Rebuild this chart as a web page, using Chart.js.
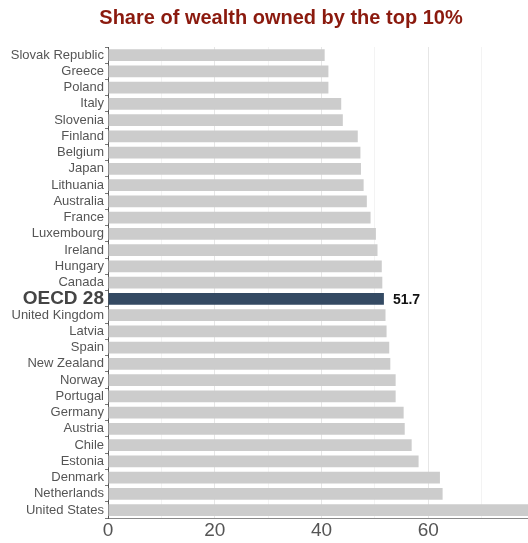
<!DOCTYPE html>
<html>
<head>
  <title>Share of wealth owned by the top 10%</title>
  <style>
    body {
      margin: 0;
      padding: 0;
      background-color: #ffffff;
    }

    .chart-box {
      width: 528px;
      height: 543px;
    }
  </style>
  <script src="https://cdn.jsdelivr.net/npm/chart.js"></script>
</head>
<body>
<div class="chart-box">
  <canvas id="wealthChart"></canvas>
</div>

<script>
  // Countries, lowest share first
  const countries = [
    'Slovak Republic', 'Greece', 'Poland', 'Italy', 'Slovenia', 'Finland', 'Belgium',
    'Japan', 'Lithuania', 'Australia', 'France', 'Luxembourg', 'Ireland', 'Hungary',
    'Canada', 'OECD 28', 'United Kingdom', 'Latvia', 'Spain', 'New Zealand', 'Norway',
    'Portugal', 'Germany', 'Austria', 'Chile', 'Estonia', 'Denmark', 'Netherlands',
    'United States'
  ];

  // Share of wealth held by the top 10% (%)
  const shares = [
    40.6, 41.3, 41.3, 43.7, 44.0, 46.8, 47.3,
    47.4, 47.9, 48.5, 49.2, 50.2, 50.5, 51.3,
    51.4, 51.7, 52.0, 52.2, 52.7, 52.9, 53.9,
    53.9, 55.4, 55.6, 56.9, 58.2, 62.2, 62.7,
    79.5
  ];

  const highlight = 'OECD 28';
  const xTicksShown = [0, 20, 40, 60];

  const highlightIndex = countries.indexOf(highlight);
  const barColors = countries.map(c => c === highlight ? '#344a63' : '#cccccc');

  // Title and the value label next to the OECD bar
  const extraText = {
    id: 'extraText',
    afterDatasetsDraw(chart) {
      const ctx = chart.ctx;
      const bar = chart.getDatasetMeta(0).data[highlightIndex];
      ctx.save();
      ctx.fillStyle = '#111111';
      ctx.font = 'bold 14px "Liberation Sans", Arial, sans-serif';
      ctx.textAlign = 'left';
      ctx.textBaseline = 'middle';
      ctx.fillText(shares[highlightIndex].toFixed(1), bar.x + 9, bar.y + 1);
      ctx.restore();
    },
    afterDraw(chart) {
      const ctx = chart.ctx;
      ctx.save();
      ctx.fillStyle = '#8b1a0e';
      ctx.font = 'bold 20px "Liberation Sans", Arial, sans-serif';
      ctx.textAlign = 'center';
      ctx.textBaseline = 'middle';
      ctx.fillText('Share of wealth owned by the top 10%', 281, 18);
      ctx.restore();
    }
  };

  new Chart(document.getElementById('wealthChart'), {
    type: 'bar',
    data: {
      labels: countries,
      datasets: [{
        data: shares,
        backgroundColor: barColors,
        borderWidth: 0,
        categoryPercentage: 1,
        barPercentage: 0.72
      }]
    },
    plugins: [extraText],
    options: {
      indexAxis: 'y',
      responsive: true,
      maintainAspectRatio: false,
      animation: false,
      layout: {
        padding: { top: 47, right: 0, bottom: 0, left: 0 }
      },
      plugins: {
        legend: { display: false },
        title: { display: false },
        tooltip: { enabled: false }
      },
      scales: {
        x: {
          min: 0,
          max: 78.7,
          border: { display: true, color: '#888888', width: 1 },
          grid: {
            drawTicks: false,
            color: ctx => (ctx.tick && ctx.tick.value % 20 === 0) ? '#e6e6e6' : '#f3f3f3'
          },
          ticks: {
            stepSize: 10,
            includeBounds: false,
            padding: 1,
            color: '#555555',
            font: { family: '"Liberation Sans", Arial, sans-serif', size: 19 },
            callback: v => xTicksShown.includes(v) ? v : ''
          }
        },
        y: {
          afterFit: scale => { scale.width = 108; },
          border: { display: true, color: '#555555', width: 1 },
          grid: {
            drawOnChartArea: false,
            drawTicks: true,
            tickLength: 3,
            tickColor: '#777777'
          },
          ticks: {
            padding: 1,
            autoSkip: false,
            color: ctx => ctx.index === highlightIndex ? '#444444' : '#555555',
            font: ctx => ctx.index === highlightIndex
              ? { family: '"Liberation Sans", Arial, sans-serif', size: 19, weight: 'bold' }
              : { family: '"Liberation Sans", Arial, sans-serif', size: 13 }
          }
        }
      }
    }
  });
</script>

</body>
</html>
